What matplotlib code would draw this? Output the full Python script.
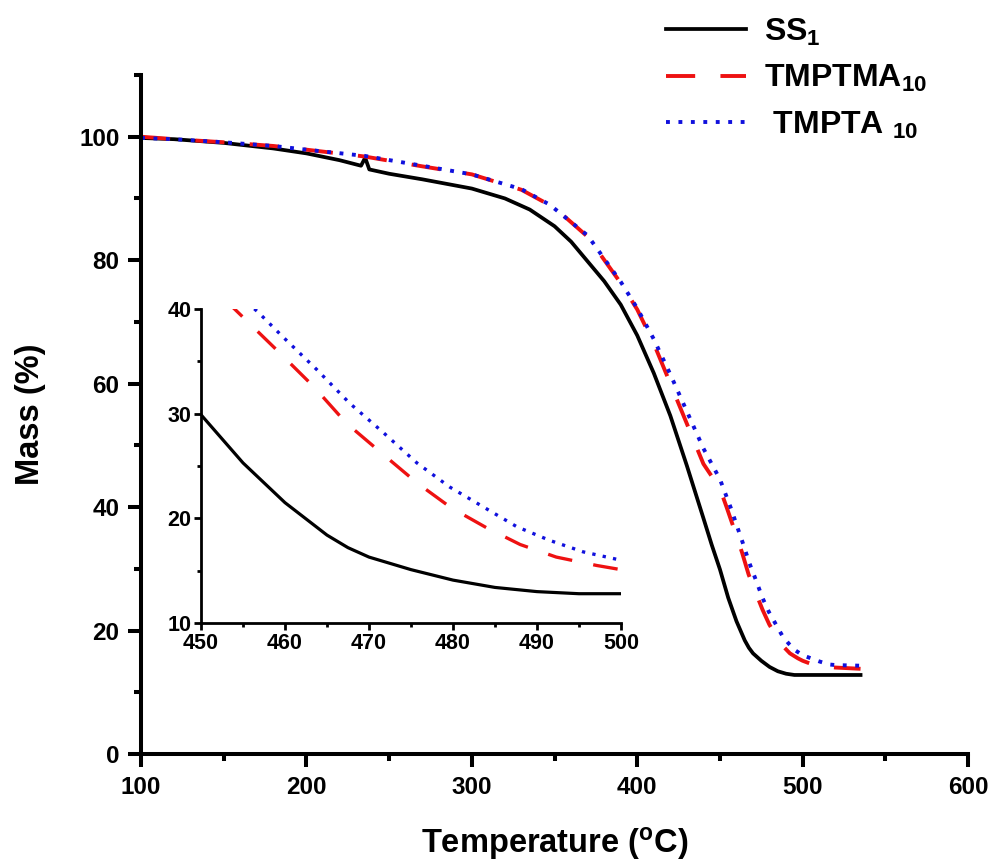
import numpy as np
import matplotlib
matplotlib.use("Agg")
import matplotlib.pyplot as plt
from matplotlib.ticker import MultipleLocator

plt.rcParams['font.family'] = ['Liberation Sans', 'DejaVu Sans']
plt.rcParams['font.weight'] = 'bold'
plt.rcParams['mathtext.fontset'] = 'custom'
plt.rcParams['mathtext.rm'] = 'Liberation Sans:bold'
plt.rcParams['mathtext.bf'] = 'Liberation Sans:bold'
plt.rcParams['mathtext.it'] = 'Liberation Sans:bold'

# ---- data ----
ss1_T = [100, 120, 150, 180, 200, 220, 233, 235.5, 238, 250, 270, 300, 320, 335, 350, 360,
         370, 380, 390, 400, 410, 420, 430, 440, 445, 450, 455, 460, 465, 467.5, 470, 475,
         480, 485, 490, 495, 500, 510, 520, 535]
ss1_M = [99.8, 99.6, 99.0, 98.1, 97.3, 96.2, 95.3, 96.6, 94.7, 94.0, 93.1, 91.6, 90.0, 88.2,
         85.5, 83.0, 79.8, 76.6, 72.8, 67.8, 61.7, 54.8, 46.7, 38.2, 33.9, 29.9, 25.3, 21.5,
         18.4, 17.2, 16.3, 15.1, 14.1, 13.4, 13.0, 12.8, 12.8, 12.8, 12.8, 12.8]

tmptma_T = [100, 120, 150, 180, 200, 235, 270, 300, 330, 350, 370, 390, 400, 410, 420, 430,
            440, 450, 454, 459, 463.4, 467.3, 471.7, 475.7, 479.8, 484, 488, 492.3, 497.1,
            500, 506, 510, 520, 535]
tmptma_M = [100.0, 99.6, 99.1, 98.5, 97.9, 96.8, 95.2, 93.9, 91.4, 88.5, 83.8, 76.3, 72.0,
            66.5, 60.0, 53.5, 47.0, 43.0, 40.0, 36.1, 32.6, 29.1, 26.1, 23.4, 21.0, 19.1,
            17.5, 16.3, 15.5, 15.1, 14.5, 14.2, 14.0, 13.8]

tmpta_T = [100, 120, 150, 180, 200, 235, 270, 300, 330, 347, 370, 390, 400, 410, 420, 430,
           440, 450, 456.8, 459.8, 463.8, 467.7, 471.7, 475.7, 479.6, 483.6, 487.6, 491.5,
           495.5, 500, 510, 516, 520, 535]
tmpta_M = [99.8, 99.6, 99.1, 98.5, 97.9, 96.9, 95.3, 93.9, 91.5, 89.0, 84.0, 76.5, 72.2,
           67.2, 61.5, 55.5, 49.5, 44.5, 39.7, 37.3, 34.2, 31.0, 28.2, 25.3, 23.0, 21.1,
           19.2, 17.9, 16.8, 16.0, 15.0, 14.5, 14.4, 14.3]

labels = ['SS$_{1}$', 'TMPTMA$_{10}$', ' TMPTA $_{10}$']
x_ticks = [100, 200, 300, 400, 500, 600]
y_ticks = [0, 20, 40, 60, 80, 100]
inset_x_ticks = [450, 460, 470, 480, 490, 500]
inset_y_ticks = [10, 20, 30, 40]

# ---- figure ----
fig = plt.figure(figsize=(9.94, 8.61), dpi=100)
ax = fig.add_axes([0.1419, 0.1243, 0.8320, 0.7886])

styles = [dict(color='black', lw=2.7, ls='-'),
          dict(color='#ee1111', lw=2.8, ls=(0, (7.5, 6.5))),
          dict(color='#1010dd', lw=2.8, ls=(0, (1, 2.2)))]
series = [(ss1_T, ss1_M), (tmptma_T, tmptma_M), (tmpta_T, tmpta_M)]

handles = []
for (t, m), st, lab in zip(series, styles, labels):
    h, = ax.plot(t, m, label=lab, **st)
    handles.append(h)

ax.set_xlim(100, 600)
ax.set_ylim(0, 110)
ax.set_xticks(x_ticks)
ax.set_yticks(y_ticks)
ax.xaxis.set_minor_locator(MultipleLocator(50))
ax.yaxis.set_minor_locator(MultipleLocator(10))
for s in ['top', 'right']:
    ax.spines[s].set_visible(False)
for s in ['left', 'bottom']:
    ax.spines[s].set_linewidth(2.9)
ax.tick_params(which='major', direction='out', length=9.5, width=2.9, labelsize=17.5, pad=6)
ax.tick_params(which='minor', direction='out', length=5, width=2.9)
ax.set_xlabel('Temperature ($^{\\mathrm{o}}$C)', fontsize=23.5, fontweight='bold', labelpad=19)
ax.set_ylabel('Mass (%)', fontsize=23.5, fontweight='bold', labelpad=24)

leg = fig.legend(handles, labels, loc='upper left', bbox_to_anchor=(0.651, 1.003),
                 frameon=False, fontsize=23, handlelength=2.5, labelspacing=0.48,
                 handletextpad=0.55, borderaxespad=0.2)

# ---- inset ----
ins = fig.add_axes([0.2022, 0.2764, 0.4225, 0.3647])
for (t, m), st in zip(series, styles):
    ins.plot(t, m, **{**st, 'lw': st['lw'] * 0.85})
ins.set_xlim(450, 500)
ins.set_ylim(10, 40)
ins.set_xticks(inset_x_ticks)
ins.set_yticks(inset_y_ticks)
ins.xaxis.set_minor_locator(MultipleLocator(5))
ins.yaxis.set_minor_locator(MultipleLocator(5))
for s in ['top', 'right']:
    ins.spines[s].set_visible(False)
for s in ['left', 'bottom']:
    ins.spines[s].set_linewidth(2.0)
ins.tick_params(which='major', direction='out', length=5, width=2.0, labelsize=15.5, pad=2)
ins.tick_params(which='minor', direction='out', length=3, width=2.0)
ins.patch.set_alpha(0)

fig.savefig('out.png', dpi=100)
